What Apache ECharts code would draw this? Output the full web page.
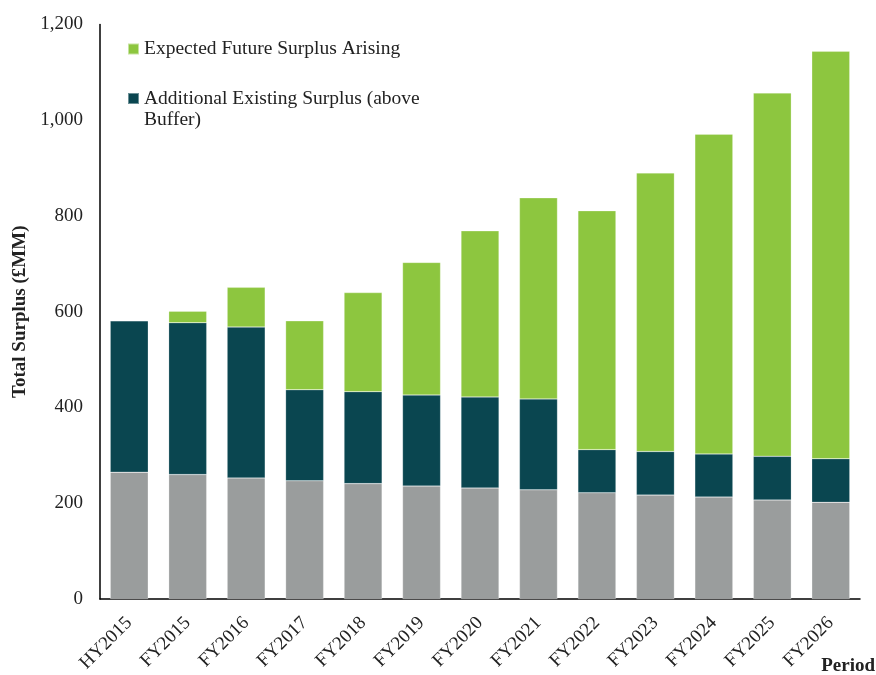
<!DOCTYPE html>
<html>
<head>
<meta charset="utf-8">
<script src="https://cdn.jsdelivr.net/npm/echarts@6/dist/echarts.min.js"></script>
<style>
  html, body { margin: 0; padding: 0; background: #fff; }
  #main { width: 876px; height: 675px; }
</style>
</head>
<body>
<div id="main"></div>
<script>
var chartDom = document.getElementById('main');
var myChart = echarts.init(chartDom);
var option;

// data (£MM)
var periods = ['HY2015', 'FY2015', 'FY2016', 'FY2017', 'FY2018', 'FY2019', 'FY2020',
  'FY2021', 'FY2022', 'FY2023', 'FY2024', 'FY2025', 'FY2026'];
var bufferSurplus = [265, 260, 253, 247, 241, 236, 232, 228, 222, 217, 213, 207, 202];
var existingSurplus = [316, 317, 315, 190, 192, 190, 190, 190, 90, 91, 90, 91, 91];
var futureSurplus = [0, 24, 83, 144, 207, 277, 347, 420, 499, 582, 668, 759, 851];
var yTicks = [0, 200, 400, 600, 800, 1000, 1200];

var serif = '"Liberation Serif", "DejaVu Serif", serif';
var nameFuture = 'Expected Future Surplus Arising';
var nameExisting = 'Additional Existing Surplus (above\nBuffer)';

option = {
    animation: false,
    textStyle: { fontFamily: serif },
    grid: { left: 100, right: 16, top: 24.5, bottom: 76, outerBoundsMode: 'none' },
    legend: [
        {
            data: [nameFuture],
            orient: 'vertical',
            left: 127, top: 39,
            padding: 0,
            itemWidth: 11, itemHeight: 11,
            icon: 'rect',
            selectedMode: false,
            textStyle: { fontFamily: serif, fontSize: 19.5, color: '#222' }
        },
        {
            data: [nameExisting],
            orient: 'vertical',
            left: 127, top: 67,
            padding: 0,
            itemWidth: 11, itemHeight: 11,
            icon: 'rect',
            selectedMode: false,
            // leading blank line keeps the icon level with the first text line
            formatter: function (name) { return '\n' + name; },
            textStyle: { fontFamily: serif, fontSize: 19.5, color: '#222', lineHeight: 21 }
        }
    ],
    xAxis: {
        type: 'category',
        data: periods,
        name: 'Period',
        nameLocation: 'end',
        nameGap: 15,
        nameTextStyle: {
            fontFamily: serif, fontSize: 19, fontWeight: 'bold', color: '#222',
            align: 'right', verticalAlign: 'top', padding: [58, 0, 0, 0]
        },
        axisLine: { lineStyle: { color: '#000', width: 1.5 } },
        axisTick: { show: false },
        axisLabel: { rotate: 45, margin: 21, fontFamily: serif, fontSize: 19, color: '#222', interval: 0 }
    },
    yAxis: {
        type: 'value',
        min: yTicks[0],
        max: yTicks[yTicks.length - 1],
        interval: 200,
        name: 'Total Surplus (£MM)',
        nameLocation: 'middle',
        nameGap: 69,
        nameTextStyle: { fontFamily: serif, fontSize: 19, fontWeight: 'bold', color: '#222' },
        axisLine: { show: true, lineStyle: { color: '#000', width: 1.5 } },
        axisTick: { show: false },
        splitLine: { show: false },
        axisLabel: {
            margin: 17, fontFamily: serif, fontSize: 19, color: '#222',
            formatter: function (v) { return v.toString().replace(/(\d)(?=(\d{3})+$)/g, '$1,'); }
        }
    },
    series: [
        {
            name: 'Buffer',
            type: 'bar',
            stack: 'total',
            barWidth: '65%',
            itemStyle: { color: '#9a9d9d', borderColor: 'rgba(255,255,255,0.5)', borderWidth: 0.5 },
            data: bufferSurplus
        },
        {
            name: nameExisting,
            type: 'bar',
            stack: 'total',
            itemStyle: { color: '#0a4650', borderColor: 'rgba(255,255,255,0.4)', borderWidth: 0.5 },
            data: existingSurplus
        },
        {
            name: nameFuture,
            type: 'bar',
            stack: 'total',
            itemStyle: { color: '#8dc63f', borderColor: 'rgba(255,255,255,0.5)', borderWidth: 0.5 },
            data: futureSurplus
        }
    ]
};

option && myChart.setOption(option);
</script>
</body>
</html>
